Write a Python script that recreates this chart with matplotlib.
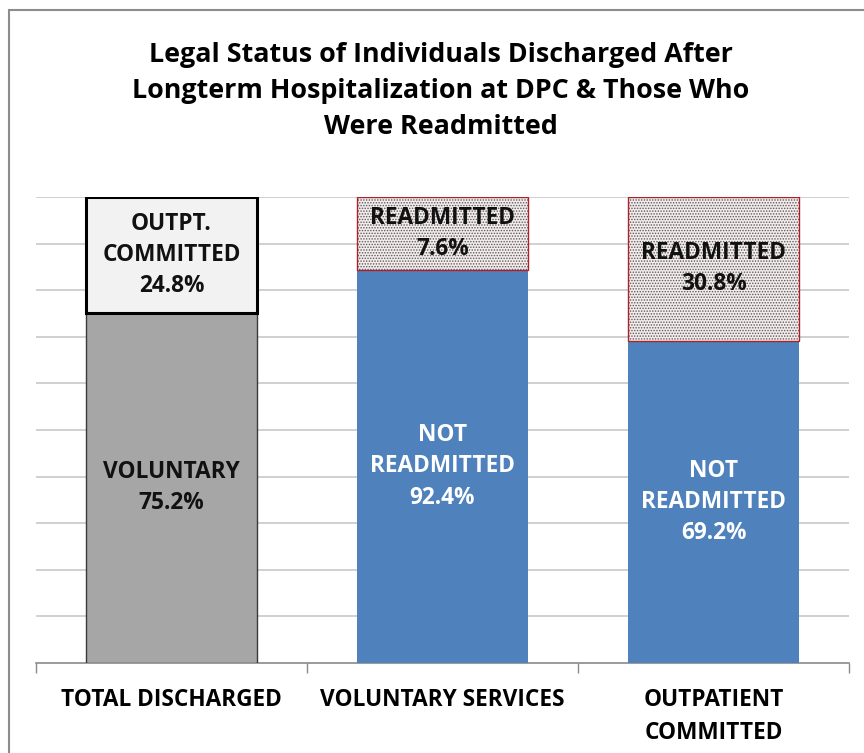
import matplotlib.pyplot as plt
from matplotlib.patches import Rectangle

plt.rcParams['font.family'] = ['Open Sans', 'DejaVu Sans']
plt.rcParams['hatch.linewidth'] = 0.7

# Data (bar heights as drawn in the original, labels as printed)
categories = ["TOTAL DISCHARGED", "VOLUNTARY SERVICES", "OUTPATIENT\nCOMMITTED"]
bottom_vals = [75.2, 84.4, 69.2]
top_vals = [24.8, 15.6, 30.8]
bottom_labels = ["VOLUNTARY\n75.2%", "NOT\nREADMITTED\n92.4%", "NOT\nREADMITTED\n69.2%"]
top_labels = ["OUTPT.\nCOMMITTED\n24.8%", "READMITTED\n7.6%", "READMITTED\n30.8%"]

title = ("Legal Status of Individuals Discharged After\n"
         "Longterm Hospitalization at DPC & Those Who\n"
         "Were Readmitted")

fig = plt.figure(figsize=(8.64, 7.53), dpi=100)
ax = fig.add_axes([36 / 864, 1 - 663 / 753, 813 / 864, 466 / 753])

x = list(range(len(categories)))
w = 0.63
fs = 16.3

# Total discharged bar (grey)
ax.bar(x[0], bottom_vals[0], width=w, color="#A6A6A6", edgecolor="#3a3a3a", linewidth=1.0, zorder=3)
ax.bar(x[0], top_vals[0], bottom=bottom_vals[0], width=w, color="#F2F2F2",
       edgecolor="black", linewidth=2.2, zorder=4)

# Voluntary / outpatient bars (blue + dotted readmitted)
ax.bar(x[1:], bottom_vals[1:], width=w, color="#4F81BD", linewidth=0, zorder=3)
ax.bar(x[1:], top_vals[1:], bottom=bottom_vals[1:], width=w, color="#F4ECEC",
       hatch="......", edgecolor="#5a5a5a", linewidth=0, zorder=3)
ax.bar(x[1:], top_vals[1:], bottom=bottom_vals[1:], width=w, fill=False,
       edgecolor="#B0202A", linewidth=1.0, zorder=4)

# Labels inside segments
for i in x:
    color = "#111111" if i == 0 else "white"
    ax.text(i, bottom_vals[i] / 2, bottom_labels[i], ha="center", va="center",
            fontsize=fs, fontweight="bold", color=color, linespacing=1.4, zorder=5)
    ax.text(i, bottom_vals[i] + top_vals[i] / 2, top_labels[i], ha="center", va="center",
            fontsize=fs, fontweight="bold", color="#111111", linespacing=1.4, zorder=5)

ax.set_xlim(-0.5, 2.5)
ax.set_ylim(0, 100)
ax.set_yticks(range(10, 101, 10))
ax.yaxis.grid(True, color="#c8c8c8", linewidth=1.2, zorder=0)
ax.tick_params(axis="y", left=False, labelleft=False)

ax.set_xticks(x)
ax.set_xticklabels(categories, fontsize=fs, fontweight="bold", linespacing=1.5, va="top")
ax.tick_params(axis="x", which="major", length=0, pad=18)
ax.set_xticks([-0.5, 0.5, 1.5, 2.5], minor=True)
ax.tick_params(axis="x", which="minor", length=7, color="#8a8a8a", width=1.0)

for s in ["top", "right", "left"]:
    ax.spines[s].set_visible(False)
ax.spines["bottom"].set_color("#8a8a8a")
ax.spines["bottom"].set_linewidth(1.2)

fig.text(0.51, 1 - 91 / 753, title, ha="center", va="center", fontsize=19.4,
         fontweight="bold", linespacing=1.5)

# outer chart frame
fig.patches.append(Rectangle((9 / 864, -0.05), 1.2, 1 - 10 / 753 + 0.05, transform=fig.transFigure,
                             fill=False, edgecolor="#8c8c8c", linewidth=1.5))

fig.savefig("out.png", dpi=100)
